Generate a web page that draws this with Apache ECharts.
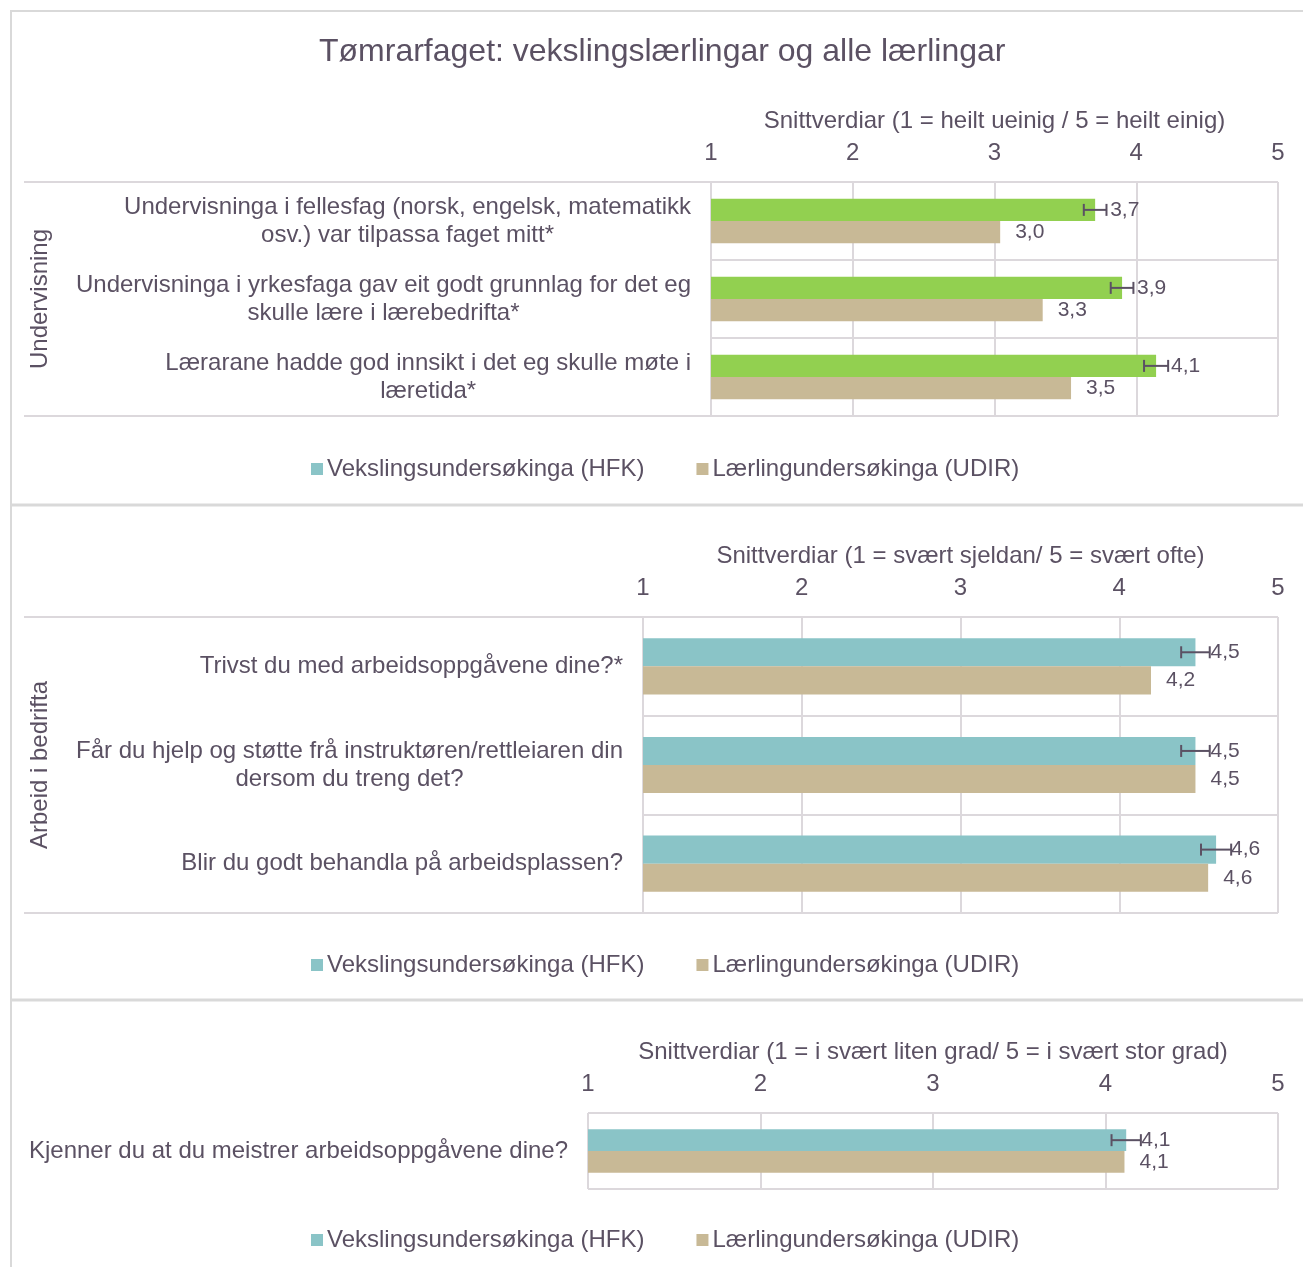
<!DOCTYPE html>
<html>
<head>
<meta charset="UTF-8">
<title>Tømrarfaget</title>
<script src="https://cdn.jsdelivr.net/npm/echarts@6/dist/echarts.min.js"></script>
<style>
	html, body { margin: 0; padding: 0; background: #fff; }
	#main { width: 1303px; height: 1267px; }
</style>
</head>
<body>
<div id="main"></div>
<script>
// --- data ---
var serieNames = ['Vekslingsundersøkinga (HFK)', 'Lærlingundersøkinga (UDIR)'];
var axisNames = [
	'Snittverdiar (1 = heilt ueinig / 5 = heilt einig)',
	'Snittverdiar (1 = svært sjeldan/ 5 = svært ofte)',
	'Snittverdiar (1 = i svært liten grad/ 5 = i svært stor grad)'
];
var groupNames = ['Undervisning', 'Arbeid i bedrifta'];

var cats1 = [
	'Undervisninga i fellesfag (norsk, engelsk, matematikk\nosv.) var tilpassa faget mitt*',
	'Undervisninga i yrkesfaga gav eit godt grunnlag for det eg\nskulle lære i lærebedrifta*',
	'Lærarane hadde god innsikt i det eg skulle møte i\nlæretida*'
];
var hfk1 = [3.71, 3.90, 4.14];
var udir1 = [3.04, 3.34, 3.54];
var err1 = [0.08, 0.08, 0.085];

var cats2 = [
	'Trivst du med arbeidsoppgåvene dine?*',
	'Får du hjelp og støtte frå instruktøren/rettleiaren din\ndersom du treng det?',
	'Blir du godt behandla på arbeidsplassen?'
];
var hfk2 = [4.48, 4.48, 4.61];
var udir2 = [4.20, 4.48, 4.56];
var err2 = [0.09, 0.09, 0.095];

var cats3 = ['Kjenner du at du meistrer arbeidsoppgåvene dine?'];
var hfk3 = [4.12];
var udir3 = [4.11];
var err3 = [0.085];

// --- style ---
var txt = '#5B5163';
var gridCol = '#DCD8DC';
var teal = '#8AC4C7';
var tan = '#C8B996';
var green = '#92D050';
var font = "'Liberation Sans', Arial, sans-serif";
var gap = 0.43;

var grids = [
	{left: 711, top: 182, width: 567, height: 234},
	{left: 643, top: 617, width: 635, height: 296},
	{left: 588, top: 1113, width: 690, height: 76}
];
var legendTops = [452, 948, 1223];

function fmt(p) { return p.value.toFixed(1).replace('.', ','); }

function errorItem(params, api) {
	var cat = api.value(0);
	var band = api.size([0, 1])[1];
	var bw = band * (1 - gap) / 2;
	var a = api.coord([api.value(1), cat]);
	var b = api.coord([api.value(2), cat]);
	var y = a[1] - bw / 2;
	var st = {stroke: txt, lineWidth: 2};
	return {type: 'group', children: [
		{type: 'line', shape: {x1: a[0], y1: y, x2: b[0], y2: y}, style: st},
		{type: 'line', shape: {x1: a[0], y1: y - 6, x2: a[0], y2: y + 6}, style: st},
		{type: 'line', shape: {x1: b[0], y1: y - 6, x2: b[0], y2: y + 6}, style: st}
	]};
}

var panels = [
	{cats: cats1, hfk: hfk1, udir: udir1, err: err1, hfkColor: green},
	{cats: cats2, hfk: hfk2, udir: udir2, err: err2, hfkColor: teal},
	{cats: cats3, hfk: hfk3, udir: udir3, err: err3, hfkColor: teal}
];

var xAxes = [], yAxes = [], series = [], legends = [];
panels.forEach(function (p, i) {
	xAxes.push({
		gridIndex: i, type: 'value', position: 'top', min: 1, max: 5, interval: 1,
		name: axisNames[i], nameLocation: 'middle', nameGap: 49,
		nameTextStyle: {fontSize: 24, color: txt, fontFamily: font},
		axisLine: {show: false}, axisTick: {show: false},
		axisLabel: {fontSize: 24, color: txt, fontFamily: font, margin: 17},
		splitLine: {show: true, lineStyle: {color: gridCol, width: 2}}
	});
	yAxes.push({
		gridIndex: i, type: 'category', inverse: true, data: p.cats,
		axisLine: {show: false}, axisTick: {show: false},
		splitLine: {show: true, lineStyle: {color: gridCol, width: 2}},
		axisLabel: {
			interval: 0, margin: 20,
			formatter: function (v) {
				return v.split('\n').map(function (l) { return '{c|' + l + '}'; }).join('\n');
			},
			rich: {c: {align: 'center', fontSize: 24, lineHeight: 28, color: txt, fontFamily: font}}
		}
	});
	var lbl = {show: true, position: 'right', distance: 15, formatter: fmt,
		fontSize: 21, color: txt, fontFamily: font};
	series.push({
		type: 'bar', name: serieNames[0], xAxisIndex: i, yAxisIndex: i,
		data: p.hfk.map(function (v) { return {value: v, itemStyle: {color: p.hfkColor}}; }),
		itemStyle: {color: teal}, barGap: '0%', barCategoryGap: (gap * 100) + '%', label: lbl
	});
	series.push({
		type: 'bar', name: serieNames[1], xAxisIndex: i, yAxisIndex: i,
		data: p.udir, itemStyle: {color: tan}, barGap: '0%', barCategoryGap: (gap * 100) + '%', label: lbl
	});
	series.push({
		type: 'custom', name: 'feilmargin', xAxisIndex: i, yAxisIndex: i,
		renderItem: errorItem, encode: {x: [1, 2], y: 0}, z: 5,
		data: p.hfk.map(function (v, k) { return [k, v - p.err[k], v + p.err[k]]; })
	});
	legends.push({
		data: serieNames, left: 306, top: legendTops[i], icon: 'rect',
		itemWidth: 12, itemHeight: 12, itemGap: 52, selectedMode: false,
		textStyle: {fontSize: 24, color: txt, fontFamily: font, padding: [0, 0, 0, -1]}
	});
});

var ln = {stroke: gridCol, lineWidth: 2};
var graphics = [
	{type: 'rect', shape: {x: 11, y: 11, width: 1310, height: 1280}, style: {fill: 'none', stroke: '#D9D9D9', lineWidth: 2}},
	{type: 'line', shape: {x1: 11, y1: 505, x2: 1303, y2: 505}, style: {stroke: '#D9D9D9', lineWidth: 3}},
	{type: 'line', shape: {x1: 11, y1: 1000, x2: 1303, y2: 1000}, style: {stroke: '#D9D9D9', lineWidth: 3}},
	{type: 'line', shape: {x1: 24, y1: 182, x2: 711, y2: 182}, style: ln},
	{type: 'line', shape: {x1: 24, y1: 416, x2: 711, y2: 416}, style: ln},
	{type: 'line', shape: {x1: 24, y1: 617, x2: 643, y2: 617}, style: ln},
	{type: 'line', shape: {x1: 24, y1: 913, x2: 643, y2: 913}, style: ln},
	{type: 'text', x: 40, y: 299, rotation: Math.PI / 2,
		style: {text: groupNames[0], fontSize: 24, fill: txt, fontFamily: font, align: 'center', verticalAlign: 'middle'}},
	{type: 'text', x: 40, y: 765, rotation: Math.PI / 2,
		style: {text: groupNames[1], fontSize: 24, fill: txt, fontFamily: font, align: 'center', verticalAlign: 'middle'}}
];

var myChart = echarts.init(document.getElementById('main'));
var option = {
	animation: false,
	backgroundColor: '#fff',
	title: {
		text: 'Tømrarfaget: vekslingslærlingar og alle lærlingar',
		left: 314, top: 31,
		textStyle: {fontSize: 32, fontWeight: 'normal', color: txt, fontFamily: font}
	},
	grid: grids,
	xAxis: xAxes,
	yAxis: yAxes,
	legend: legends,
	series: series,
	graphic: graphics
};
myChart.setOption(option);
</script>
</body>
</html>
